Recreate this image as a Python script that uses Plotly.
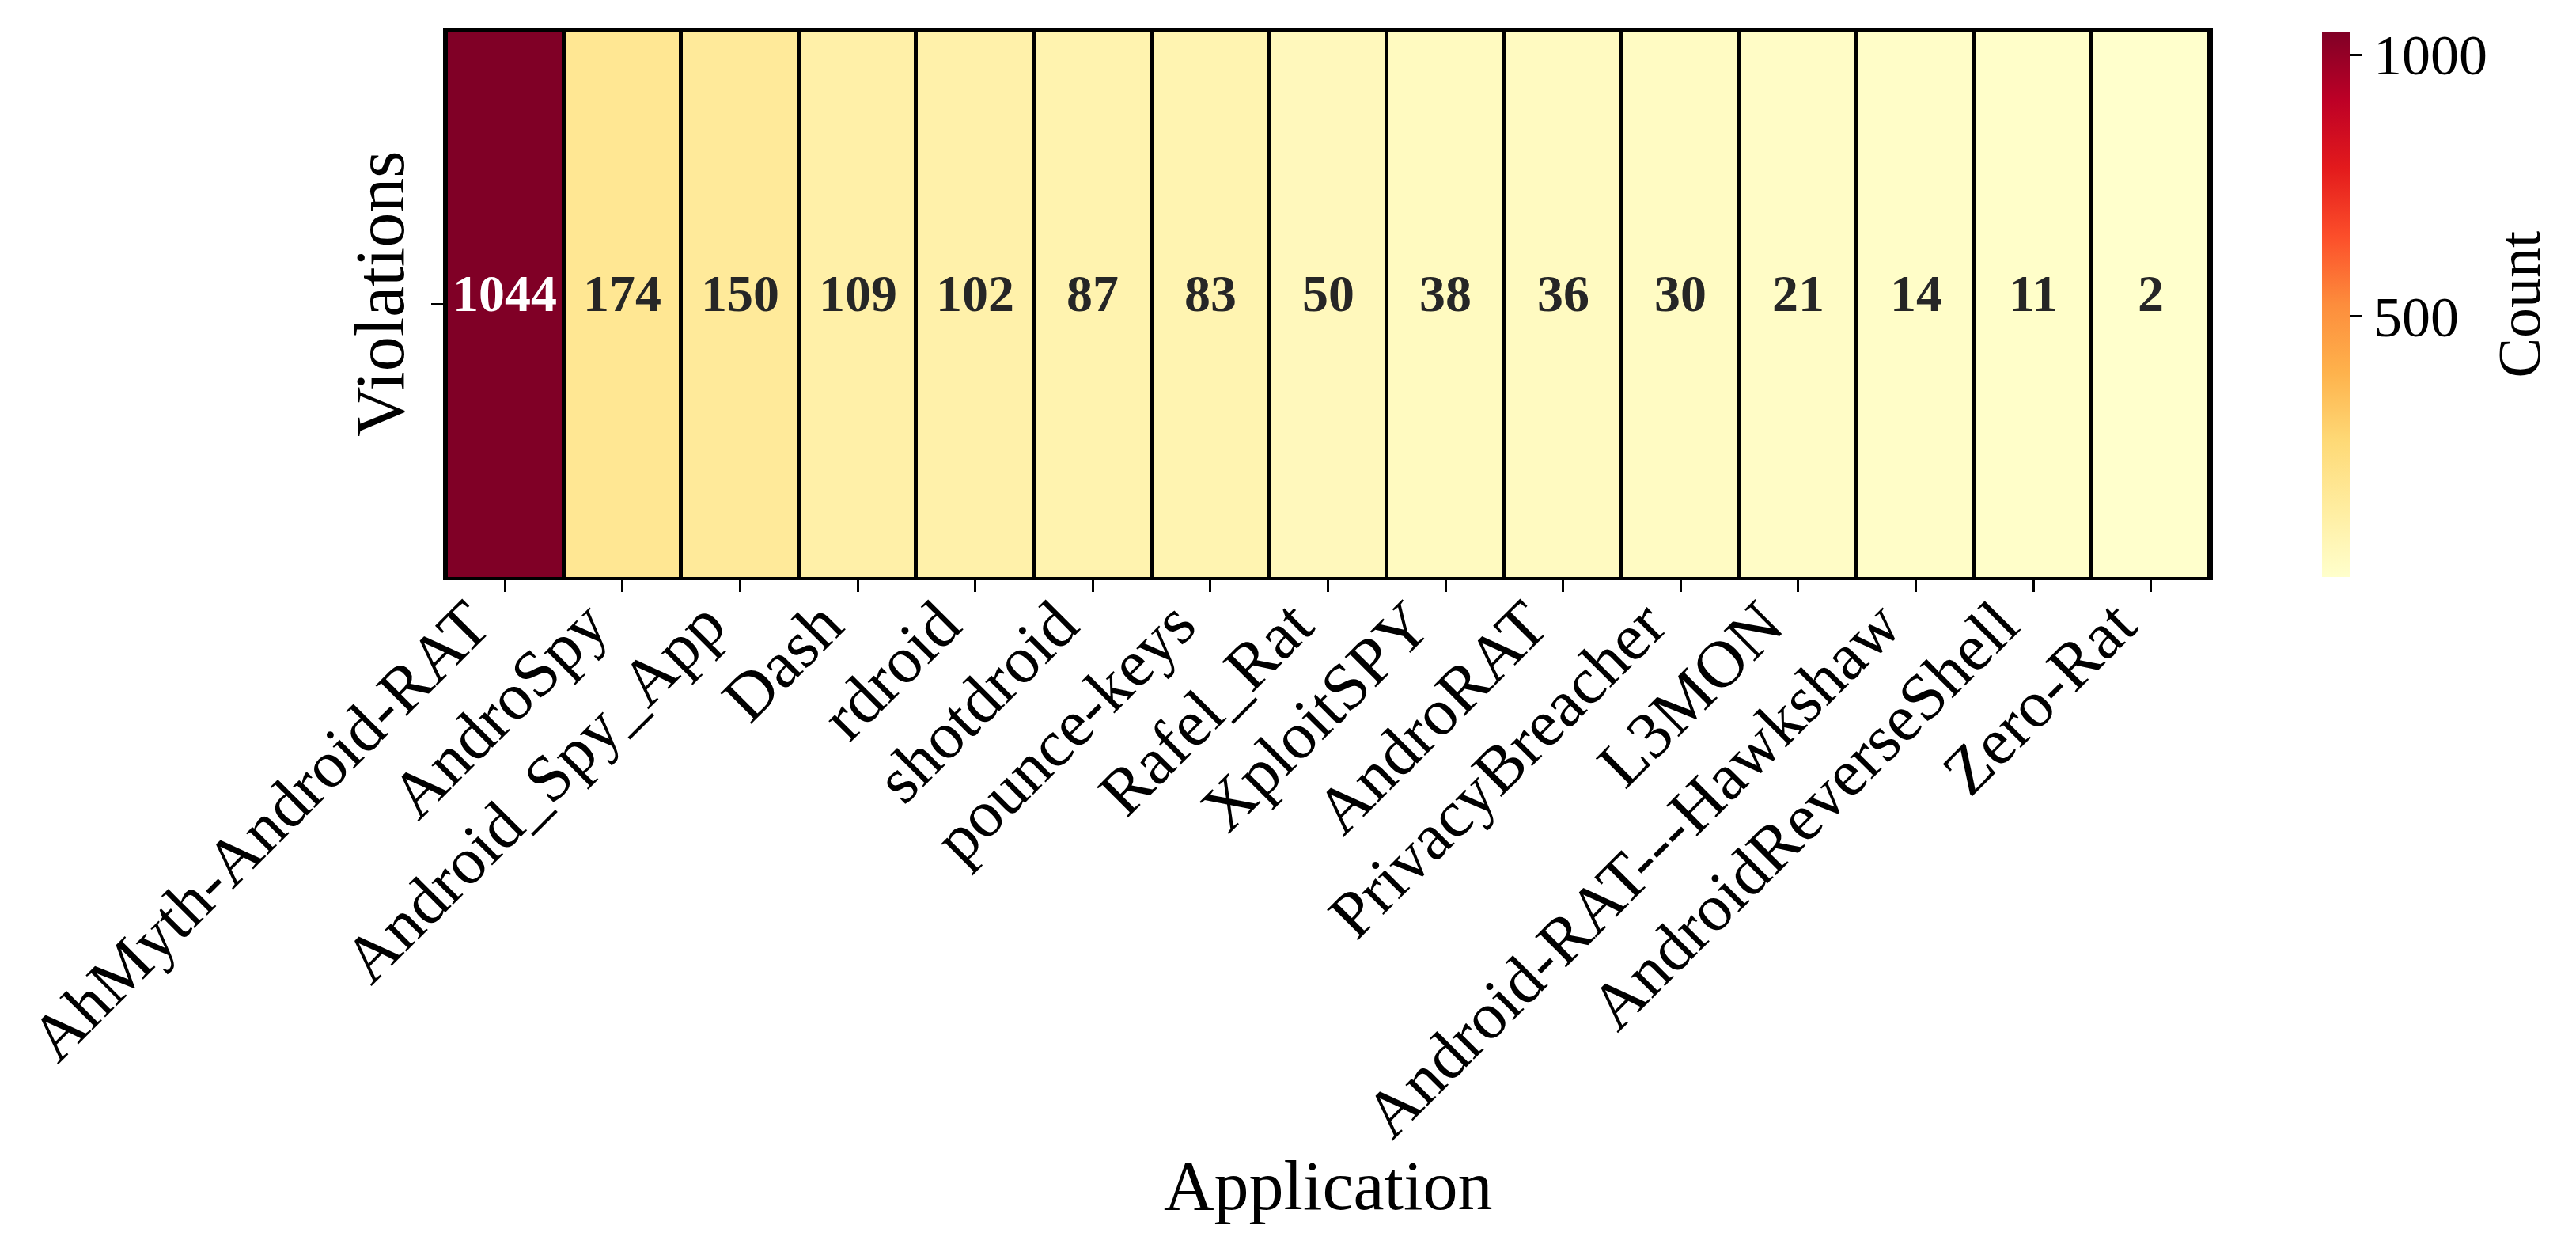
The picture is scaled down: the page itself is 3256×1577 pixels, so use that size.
import plotly.graph_objects as go
import plotly.colors as pc

applications = ["AhMyth-Android-RAT", "AndroSpy", "Android_Spy_App", "Dash", "rdroid",
                "shotdroid", "pounce-keys", "Rafel_Rat", "XploitSPY", "AndroRAT",
                "PrivacyBreacher", "L3MON", "Android-RAT---Hawkshaw",
                "AndroidReverseShell", "Zero-Rat"]
violations = [1044, 174, 150, 109, 102, 87, 83, 50, 38, 36, 30, 21, 14, 11, 2]
row_labels = ["Violations"]
cbar_ticks = [500, 1000]

FONT = "Liberation Serif"
zmin, zmax = min(violations), max(violations)

fig = go.Figure(go.Heatmap(
    z=[violations], x=applications, y=row_labels,
    zmin=zmin, zmax=zmax,
    colorscale=pc.sequential.YlOrRd,
    xgap=5, ygap=0,
    hoverinfo="skip",
    colorbar=dict(
        thickness=35, len=1.0, lenmode="fraction", y=0.5, yanchor="middle",
        x=1.0637, xanchor="left", xpad=0, ypad=0, outlinewidth=0,
        tickvals=cbar_ticks, ticks="outside", ticklen=16, tickwidth=3, tickcolor="black",
        tickfont=dict(family=FONT, size=72, color="black"),
    ),
))

annotations = []
for app, v in zip(applications, violations):
    frac = (v - zmin) / (zmax - zmin)
    annotations.append(dict(
        x=app, y=row_labels[0], text=f"<b>{v}</b>", showarrow=False, yshift=14,
        font=dict(family=FONT, size=66, color="white" if frac > 0.5 else "#262626"),
    ))
# colorbar title and x-axis title
annotations.append(dict(
    text="Count", xref="paper", yref="paper", x=1.175, y=0.5,
    xanchor="center", yanchor="middle", textangle=-90, showarrow=False,
    font=dict(family=FONT, size=76, color="black"),
))
annotations.append(dict(
    text="Application", xref="paper", yref="paper", x=0.5, y=-1.117,
    xanchor="center", yanchor="middle", showarrow=False,
    font=dict(family=FONT, size=88, color="black"),
))

fig.update_layout(
    width=3256, height=1577,
    margin=dict(l=556, r=471, t=32, b=856),
    paper_bgcolor="white", plot_bgcolor="black",
    annotations=annotations,
    font=dict(family=FONT, color="black"),
)
fig.update_xaxes(
    tickangle=-45, tickfont=dict(family=FONT, size=84),
    ticklabelshift=-44, ticklabelstandoff=-42,
    ticks="outside", ticklen=15, tickwidth=3, tickcolor="black",
    showline=True, linecolor="black", linewidth=4, mirror=True,
    showgrid=False, zeroline=False,
)
fig.update_yaxes(
    tickangle=-90, tickfont=dict(family=FONT, size=88),
    ticks="outside", ticklen=15, tickwidth=3, tickcolor="black",
    showline=True, linecolor="black", linewidth=4, mirror=True,
    showgrid=False, zeroline=False,
)

fig.write_html("out.html")
